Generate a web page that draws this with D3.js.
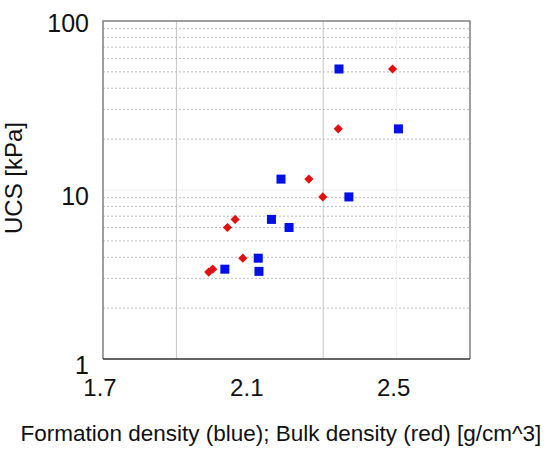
<!DOCTYPE html>
<html><head><meta charset="utf-8">
<script src="https://cdn.jsdelivr.net/npm/d3@7"></script>
<style>body{margin:0;background:#fff;} svg{display:block;}</style>
</head><body>
<svg id="chart" width="557" height="450"></svg>
<script>
const formationDensity = [2.343, 2.505, 2.370, 2.207, 2.185, 2.159, 2.123, 2.125, 2.032];
const formationUCS     = [52, 23, 9.1, 6.0, 11.6, 6.7, 3.95, 3.3, 3.4];
const bulkDensity      = [2.489, 2.341, 2.261, 2.299, 2.060, 2.039, 2.081, 1.999, 1.988];
const bulkUCS          = [52, 23, 11.6, 9.1, 6.7, 6.0, 3.95, 3.4, 3.27];
const xTickLabels = [1.7, 2.1, 2.5];
const xGridMajor = [1.9, 2.3];
const xGridFaint = [2.5];
const yTickLabels = [1, 10, 100];
const yTitle = "UCS [kPa]";
const xTitle = "Formation density (blue); Bulk density (red) [g/cm^3]";

const svg = d3.select("#chart");
const m = {left:103, right:470, top:21, bottom:359};
const x = d3.scaleLinear().domain([1.7, 2.7]).range([m.left, m.right]);
const y = d3.scaleLog().domain([1, 100]).range([m.bottom, m.top]);
const font = "'Liberation Sans', Arial, sans-serif";

// minor horizontal dotted gridlines
const minor = [];
for (const d of [1, 10]) for (let k = 2; k <= 9; k++) minor.push(d * k);
svg.append("g").selectAll("line").data(minor).join("line")
  .attr("x1", m.left).attr("x2", m.right)
  .attr("y1", d => y(d)).attr("y2", d => y(d))
  .attr("stroke", "#bdbdbd").attr("stroke-width", 1).attr("stroke-dasharray", "2,2");
svg.append("line").attr("x1", m.left).attr("x2", m.right)
  .attr("y1", y(10)).attr("y2", y(10)).attr("stroke", "#eeeeee");

// vertical gridlines
svg.append("g").selectAll("line").data(xGridFaint).join("line")
  .attr("x1", d => x(d)).attr("x2", d => x(d)).attr("y1", m.top).attr("y2", m.bottom)
  .attr("stroke", "#eeeeee");
svg.append("g").selectAll("line").data(xGridMajor).join("line")
  .attr("x1", d => x(d)).attr("x2", d => x(d)).attr("y1", m.top).attr("y2", m.bottom)
  .attr("stroke", "#c4c4c4");

// frame
svg.append("path")
  .attr("d", `M${m.left},${m.bottom}V${m.top}H${m.right}V${m.bottom}`)
  .attr("fill", "none").attr("stroke", "#808080").attr("stroke-width", 1.5);
svg.append("line").attr("x1", m.left).attr("x2", m.right)
  .attr("y1", m.bottom).attr("y2", m.bottom).attr("stroke", "#333").attr("stroke-width", 1.5);

// tick labels
svg.append("g").selectAll("text").data(xTickLabels).join("text")
  .attr("x", d => x(d) - 3).attr("y", 396)
  .attr("text-anchor", "middle").attr("font-family", font).attr("font-size", 24)
  .attr("fill", "#111").text(d => d.toFixed(1));
svg.append("g").selectAll("text").data(yTickLabels).join("text")
  .attr("x", 89).attr("y", (d, i) => y(d) + [15, 15, 11][i])
  .attr("text-anchor", "end").attr("font-family", font).attr("font-size", 25)
  .attr("fill", "#111").text(d => d);

// titles
svg.append("text").attr("transform", `translate(22,178) rotate(-90)`)
  .attr("text-anchor", "middle").attr("font-family", font).attr("font-size", 24)
  .attr("fill", "#111").text(yTitle);
svg.append("text").attr("x", 281).attr("y", 441)
  .attr("text-anchor", "middle").attr("font-family", font).attr("font-size", 22.5)
  .attr("fill", "#111").text(xTitle);

// points
const blue = formationDensity.map((d, i) => ({x: d, y: formationUCS[i]}));
const red = bulkDensity.map((d, i) => ({x: d, y: bulkUCS[i]}));
const s = 9;
svg.append("g").selectAll("rect").data(blue).join("rect")
  .attr("x", d => x(d.x) - s/2).attr("y", d => y(d.y) - s/2)
  .attr("width", s).attr("height", s).attr("fill", "#0010e8");
const r = 6.5;
svg.append("g").selectAll("rect").data(red).join("rect")
  .attr("x", -r/2).attr("y", -r/2).attr("width", r).attr("height", r)
  .attr("transform", d => `translate(${x(d.x)},${y(d.y)}) rotate(45)`)
  .attr("fill", "#e01010");
</script>
</body></html>
